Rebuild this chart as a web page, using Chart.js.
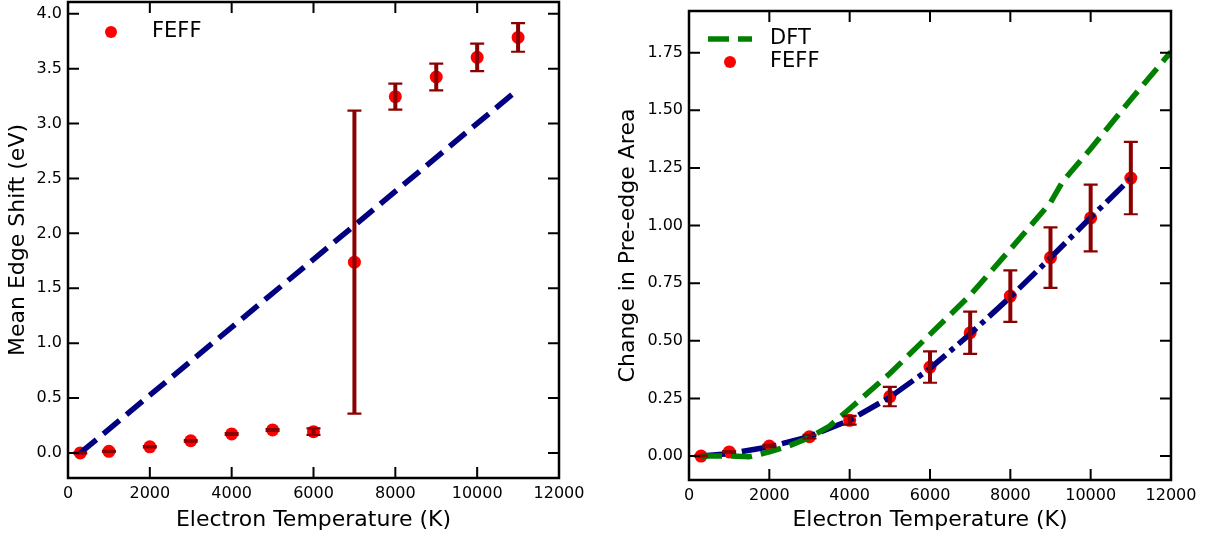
<!DOCTYPE html>
<html>
<head>
<meta charset="utf-8">
<script src="https://cdn.jsdelivr.net/npm/chart.js@4.4.1/dist/chart.umd.min.js"></script>
<style>
  body { margin: 0; background: #fff; overflow: hidden; }
  #wrap { position: relative; width: 1208px; height: 533px; overflow: hidden; }
  canvas { position: absolute; }
  #leftChart { left: 0; top: -5px; }
  #rightChart { left: 600px; top: 0; }
</style>
</head>
<body>
<div id="wrap">
  <canvas id="leftChart" width="600" height="538"></canvas>
  <canvas id="rightChart" width="608" height="533"></canvas>
</div>
<script>
// shared temperatures (K)
const tempK = [300, 1000, 2000, 3000, 4000, 5000, 6000, 7000, 8000, 9000, 10000, 11000];
const xTicks = [0, 2000, 4000, 6000, 8000, 10000, 12000];

// left panel: mean edge shift
const edgeShift = [0.0, 0.015, 0.056, 0.111, 0.173, 0.21, 0.194, 1.738, 3.245, 3.424, 3.603, 3.784];
const edgeShiftErr = [0.004, 0.005, 0.006, 0.007, 0.008, 0.008, 0.03, 1.38, 0.118, 0.122, 0.125, 0.13];
const edgeFitT = [300, 11000];
const edgeFit = [0.0, 3.31];
const leftYTicks = [0.0, 0.5, 1.0, 1.5, 2.0, 2.5, 3.0, 3.5, 4.0];

// right panel: pre-edge area
const preEdge = [0.0, 0.018, 0.043, 0.084, 0.155, 0.258, 0.386, 0.535, 0.694, 0.861, 1.033, 1.206];
const preEdgeErr = [0.002, 0.003, 0.005, 0.008, 0.019, 0.042, 0.068, 0.092, 0.112, 0.131, 0.145, 0.157];
const preEdgeFit = [0.0, 0.01, 0.04, 0.085, 0.155, 0.255, 0.38, 0.53, 0.69, 0.86, 1.035, 1.205];
const dftT = [300, 1000, 1500, 2000, 2500, 3000, 3500, 4000, 5000, 6000, 7000, 8000, 9000, 9300, 10000, 11000, 12000];
const dftArea = [0.0, 0.0, -0.003, 0.018, 0.045, 0.08, 0.13, 0.205, 0.358, 0.528, 0.698, 0.897, 1.1, 1.19, 1.333, 1.547, 1.754];
const rightYTicks = [0.0, 0.25, 0.5, 0.75, 1.0, 1.25, 1.5, 1.75];

const FONT = 'DejaVu Sans';
const toXY = (xs, ys) => xs.map((x, i) => ({ x: x, y: ys[i] }));

// drop the extra room chart.js keeps for end labels
function noPad(s) {
    s.paddingLeft = 0; s.paddingRight = 0; s.paddingTop = 0; s.paddingBottom = 0;
}

// frame, inward ticks, error bars and legend
function panelPlugin(errDatasetIndex, errors, legendItems) {
    return {
        id: 'panel',
        afterDatasetsDraw(chart) {
            const ctx = chart.ctx;
            const xs = chart.scales.x, ys = chart.scales.y;
            const ds = chart.data.datasets[errDatasetIndex];
            ctx.save();
            ctx.strokeStyle = '#8b0000';
            ds.data.forEach((p, i) => {
                const px = xs.getPixelForValue(p.x);
                const top = ys.getPixelForValue(p.y + errors[i]);
                const bot = ys.getPixelForValue(p.y - errors[i]);
                ctx.lineWidth = 4;
                ctx.beginPath(); ctx.moveTo(px, top); ctx.lineTo(px, bot); ctx.stroke();
                ctx.lineWidth = 2.2;
                ctx.beginPath();
                ctx.moveTo(px - 7, top); ctx.lineTo(px + 7, top);
                ctx.moveTo(px - 7, bot); ctx.lineTo(px + 7, bot);
                ctx.stroke();
            });
            ctx.restore();
        },
        afterDraw(chart) {
            const ctx = chart.ctx;
            const a = chart.chartArea;
            const xs = chart.scales.x, ys = chart.scales.y;
            ctx.save();
            ctx.strokeStyle = '#000';
            ctx.lineWidth = 2;
            ctx.beginPath();
            xs.ticks.forEach(t => {
                const px = xs.getPixelForValue(t.value);
                ctx.moveTo(px, a.bottom); ctx.lineTo(px, a.bottom - 11);
                ctx.moveTo(px, a.top); ctx.lineTo(px, a.top + 11);
            });
            ys.ticks.forEach(t => {
                const py = ys.getPixelForValue(t.value);
                ctx.moveTo(a.left, py); ctx.lineTo(a.left + 11, py);
                ctx.moveTo(a.right, py); ctx.lineTo(a.right - 11, py);
            });
            ctx.stroke();
            ctx.lineWidth = 2.5;
            ctx.strokeRect(a.left, a.top, a.right - a.left, a.bottom - a.top);

            // legend
            ctx.font = '21px ' + FONT;
            ctx.textBaseline = 'middle';
            ctx.fillStyle = '#000';
            legendItems.forEach(it => {
                const ds = chart.data.datasets[it.ds];
                if (it.kind === 'line') {
                    ctx.strokeStyle = ds.borderColor;
                    ctx.lineWidth = ds.borderWidth;
                    ctx.setLineDash(ds.borderDash);
                    ctx.beginPath(); ctx.moveTo(it.x, it.y); ctx.lineTo(it.x + 44, it.y); ctx.stroke();
                    ctx.setLineDash([]);
                } else {
                    ctx.fillStyle = ds.backgroundColor;
                    ctx.beginPath(); ctx.arc(it.x + 22, it.y, 6, 0, Math.PI * 2); ctx.fill();
                }
                ctx.fillStyle = '#000';
                ctx.fillText(ds.label, it.tx, it.y);
            });
            ctx.restore();
        }
    };
}

function axes(yMin, yMax, yTicks, yTitle, yFmt, yWidth, yTitlePad, xHeight) {
    return {
        x: {
            type: 'linear', min: 0, max: 12000,
            grid: { display: false, drawTicks: false }, border: { display: false },
            afterBuildTicks: s => { s.ticks = xTicks.map(v => ({ value: v })); },
            afterFit: s => { s.height = xHeight; noPad(s); },
            ticks: { color: '#000', font: { family: FONT, size: 16 }, padding: 6, callback: v => String(v) },
            title: { display: true, text: 'Electron Temperature (K)', color: '#000',
                     font: { family: FONT, size: 22 }, padding: { top: 3, bottom: 0 } }
        },
        y: {
            type: 'linear', min: yMin, max: yMax,
            grid: { display: false, drawTicks: false }, border: { display: false },
            afterBuildTicks: s => { s.ticks = yTicks.map(v => ({ value: v })); },
            afterFit: s => { s.width = yWidth; noPad(s); },
            ticks: { color: '#000', font: { family: FONT, size: 16 }, padding: 6, callback: v => Number(v).toFixed(yFmt) },
            title: { display: true, text: yTitle, color: '#000',
                     font: { family: FONT, size: 22 }, padding: { top: yTitlePad, bottom: 0 } }
        }
    };
}

const baseOpts = {
    responsive: false, animation: false, devicePixelRatio: 1,
    plugins: { legend: { display: false }, tooltip: { enabled: false } }
};

// Left chart (canvas sits 5px higher, so the frame can reach the page top)
new Chart(document.getElementById('leftChart'), {
    type: 'scatter',
    data: {
        datasets: [
            { label: 'fit', data: toXY(edgeFitT, edgeFit), showLine: true, borderColor: '#000080',
              borderWidth: 5.5, borderDash: [21, 9], pointRadius: 0, order: 1 },
            { label: 'FEFF', data: toXY(tempK, edgeShift), backgroundColor: '#ff0000', borderWidth: 0,
              pointRadius: 6.5, order: 2 }
        ]
    },
    options: Object.assign({}, baseOpts, {
        layout: { padding: { top: 7, right: 41, left: 0, bottom: 0 } },
        scales: axes(-0.228, 4.107, leftYTicks, 'Mean Edge Shift (eV)', 1, 68, 5, 55)
    }),
    plugins: [panelPlugin(1, edgeShiftErr, [{ ds: 1, kind: 'point', x: 89, y: 37, tx: 152 }])]
});

// Right chart
new Chart(document.getElementById('rightChart'), {
    type: 'scatter',
    data: {
        datasets: [
            { label: 'DFT', data: toXY(dftT, dftArea), showLine: true, borderColor: '#008000',
              borderWidth: 5.5, borderDash: [21, 9], pointRadius: 0, order: 1 },
            { label: 'fit', data: toXY(tempK, preEdgeFit), showLine: true, borderColor: '#000080',
              borderWidth: 5.5, borderDash: [24, 6, 5, 6], pointRadius: 0, order: 2 },
            { label: 'FEFF', data: toXY(tempK, preEdge), backgroundColor: '#ff0000', borderWidth: 0,
              pointRadius: 6.5, order: 3 }
        ]
    },
    options: Object.assign({}, baseOpts, {
        layout: { padding: { top: 11, right: 37, left: 0, bottom: 0 } },
        scales: axes(-0.104, 1.931, rightYTicks, 'Change in Pre-edge Area', 2, 89, 15, 53)
    }),
    plugins: [panelPlugin(2, preEdgeErr, [
        { ds: 0, kind: 'line', x: 108, y: 39, tx: 170 },
        { ds: 2, kind: 'point', x: 108, y: 62, tx: 170 }
    ])]
});
</script>
</body>
</html>
